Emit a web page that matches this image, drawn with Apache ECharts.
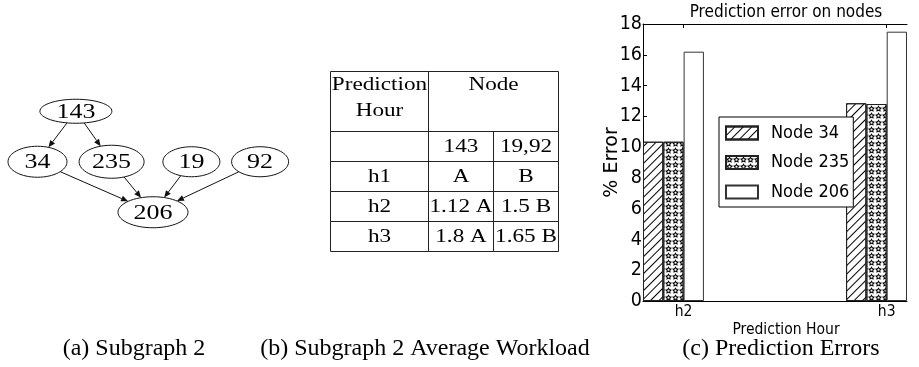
<!DOCTYPE html>
<html>
<head>
<meta charset="utf-8">
<script src="https://cdn.jsdelivr.net/npm/echarts@6/dist/echarts.min.js"></script>
<style>
  html, body { margin: 0; padding: 0; background: #fff; }
  #chart { width: 919px; height: 367px; }
</style>
</head>
<body>
<div id="chart"></div>
<script>
// (a) subgraph 2
var graphNodes = ['143', '34', '235', '19', '92', '206'];
var graphNodeX = [2.53, 1.25, 3.72, 6.38, 8.67, 5.1];
var graphNodeLevel = [0, 1, 1, 1, 1, 2];
var graphEdges = [[0, 1], [0, 2], [1, 5], [2, 5], [3, 5], [4, 5]];

// (b) average workload table
var tableHeader = ['Prediction\nHour', 'Node'];
var tableNodes = ['143', '19,92'];
var tableHours = ['h1', 'h2', 'h3'];
var table143 = ['A', '1.12 A', '1.8 A'];
var table1992 = ['B', '1.5 B', '1.65 B'];

// (c) prediction errors
var hours = ['h2', 'h3'];
var hourIndex = [0, 1];
var node34 = [10.35, 12.85];
var node235 = [10.35, 12.8];
var node206 = [16.2, 17.5];

// styles
var serif = '"Liberation Serif", "Times New Roman", serif';
var sans = '"DejaVu Sans Condensed", "DejaVu Sans", sans-serif';
var nodeW = [72, 59, 65, 57, 57, 70];
var nodeH = [24, 31, 33, 30, 30, 31];
var arrowLen = 7, arrowHalf = 3;

// table cells: [col0, col1, row0, row1, text, valign]
var tableCells = [
  [0, 3, 0, 2, tableHeader[0], 'top'],
  [3, 7, 0, 2, tableHeader[1], 'top'],
  [0, 3, 2, 3, ''],
  [3, 5, 2, 3, tableNodes[0]],
  [5, 7, 2, 3, tableNodes[1]]
];
tableHours.forEach(function (h, i) {
  tableCells.push([0, 3, 3 + i, 4 + i, h]);
  tableCells.push([3, 5, 3 + i, 4 + i, table143[i]]);
  tableCells.push([5, 7, 3 + i, 4 + i, table1992[i]]);
});

// outlined star used as the hatch of Node 235
function starRing(R, r, reverse) {
  var pts = [];
  for (var k = 0; k < 10; k++) {
    var ang = -Math.PI / 2 + k * Math.PI / 5;
    var rad = k % 2 ? r : R;
    pts.push((50 + rad * Math.cos(ang)).toFixed(1) + ' ' + (50 + rad * Math.sin(ang)).toFixed(1));
  }
  if (reverse) pts.reverse();
  return 'M' + pts.join(' L') + ' Z';
}
var starSymbol = 'path://' + starRing(50, 26, false) + ' ' + starRing(24, 9, true);

var hatchDecal = {
  symbol: 'rect', symbolSize: 1, color: '#000',
  dashArrayX: [1, 0], dashArrayY: [1, 5], rotation: -Math.PI / 4
};
var starDecal = {
  symbol: starSymbol, symbolSize: 1, color: '#000',
  dashArrayX: [6.5, 0], dashArrayY: [6.5, 0], rotation: 0
};

function ellipseDist(i, ux, uy) {
  var rx = nodeW[i] / 2, ry = nodeH[i] / 2;
  return 1 / Math.sqrt((ux / rx) * (ux / rx) + (uy / ry) * (uy / ry));
}

function renderEdge(params, api) {
  var e = graphEdges[params.dataIndex];
  var pa = api.coord([graphNodeX[e[0]], graphNodeLevel[e[0]]]);
  var pb = api.coord([graphNodeX[e[1]], graphNodeLevel[e[1]]]);
  var dx = pb[0] - pa[0], dy = pb[1] - pa[1];
  var len = Math.sqrt(dx * dx + dy * dy);
  var ux = dx / len, uy = dy / len;
  var da = ellipseDist(e[0], ux, uy), db = ellipseDist(e[1], ux, uy);
  var sx = pa[0] + ux * da, sy = pa[1] + uy * da;
  var tx = pb[0] - ux * db, ty = pb[1] - uy * db;
  var bx = tx - ux * arrowLen, by = ty - uy * arrowLen;
  return {
    type: 'group',
    children: [
      { type: 'line', shape: { x1: sx, y1: sy, x2: bx, y2: by }, style: { stroke: '#111', lineWidth: 1 } },
      {
        type: 'polygon',
        shape: { points: [[tx, ty], [bx - uy * arrowHalf, by + ux * arrowHalf], [bx + uy * arrowHalf, by - ux * arrowHalf]] },
        style: { fill: '#111' }
      }
    ]
  };
}

function renderNode(params, api) {
  var i = params.dataIndex;
  var p = api.coord([graphNodeX[i], graphNodeLevel[i]]);
  return {
    type: 'group',
    children: [
      { type: 'ellipse', shape: { cx: p[0], cy: p[1], rx: nodeW[i] / 2, ry: nodeH[i] / 2 }, style: { fill: '#fff', stroke: '#111', lineWidth: 1 } },
      {
        type: 'text', x: p[0], y: p[1] + 1, scaleX: 1.3,
        style: { text: graphNodes[i], font: '20px ' + serif, fill: '#000', align: 'center', verticalAlign: 'middle' }
      }
    ]
  };
}

function renderCell(params, api) {
  var c = tableCells[params.dataIndex];
  var p0 = api.coord([c[0], c[2]]);
  var p1 = api.coord([c[1], c[3]]);
  var x = Math.round(p0[0]) + 0.5, y = Math.round(p0[1]) + 0.5;
  var w = Math.round(p1[0]) - Math.round(p0[0]);
  var h = Math.round(p1[1]) - Math.round(p0[1]);
  var children = [{ type: 'rect', shape: { x: x, y: y, width: w, height: h }, style: { fill: 'none', stroke: '#222', lineWidth: 1 } }];
  if (c[4]) {
    var top = c[5] === 'top';
    children.push({
      type: 'text', x: x + w / 2, y: top ? y + 1 : y + h / 2 + 1, scaleX: 1.22,
      style: { text: c[4], font: '19px ' + serif, fill: '#000', align: 'center', verticalAlign: top ? 'top' : 'middle', lineHeight: 26 }
    });
  }
  return { type: 'group', children: children };
}

function barData(values) {
  return hourIndex.map(function (h, i) { return [h + 0.15, values[i]]; });
}
var hourTicks = hourIndex.map(function (h) { return h + 0.2; });

var chart = echarts.init(document.getElementById('chart'));
chart.setOption({
  animation: false,
  textStyle: { fontFamily: sans, color: '#000' },
  grid: [
    { left: 643, top: 24, width: 264, height: 277, outerBoundsMode: 'none' },
    { left: 0, top: 86, width: 300, height: 151.5, outerBoundsMode: 'none' },
    { left: 330, top: 71, width: 228, height: 180, outerBoundsMode: 'none' }
  ],
  xAxis: [
    {
      type: 'value', gridIndex: 0, min: 0, max: 1.3, position: 'bottom',
      axisLine: { show: true, onZero: false, lineStyle: { color: '#000', width: 1 } },
      axisTick: { show: true, inside: true, length: 4, customValues: hourTicks, lineStyle: { color: '#000' } },
      axisLabel: {
        customValues: hourTicks, margin: 3, fontSize: 15.5, color: '#000',
        formatter: function (v) { return hours[Math.round(v - 0.2)]; }
      },
      splitLine: { show: false },
      name: 'Prediction Hour', nameLocation: 'middle', nameGap: 21, nameMoveOverlap: false,
      nameTextStyle: { fontSize: 15.5, color: '#000', padding: [0, 0, 0, 22] }
    },
    {
      type: 'value', gridIndex: 0, min: 0, max: 1.3, position: 'top',
      axisLine: { show: true, onZero: false, lineStyle: { color: '#000', width: 1 } },
      axisTick: { show: true, inside: true, length: 4, customValues: hourTicks, lineStyle: { color: '#000' } },
      axisLabel: { show: false },
      splitLine: { show: false }
    },
    { type: 'value', gridIndex: 1, min: 0, max: 10, show: false },
    { type: 'value', gridIndex: 2, min: 0, max: 7, show: false }
  ],
  yAxis: [
    {
      type: 'value', gridIndex: 0, min: 0, max: 18, interval: 2,
      axisLine: { show: true, lineStyle: { color: '#000', width: 1 } },
      axisTick: { show: true, inside: true, length: 4, lineStyle: { color: '#000' } },
      axisLabel: { margin: 1, fontSize: 19.5, color: '#000' },
      splitLine: { show: false },
      name: '% Error', nameLocation: 'middle', nameGap: 21, nameRotate: 90, nameMoveOverlap: false,
      nameTextStyle: { fontSize: 19, color: '#000', fontFamily: '"DejaVu Sans", sans-serif' }
    },
    { type: 'value', gridIndex: 1, min: -0.5, max: 2.5, inverse: true, show: false },
    { type: 'value', gridIndex: 2, min: 0, max: 6, inverse: true, show: false }
  ],
  legend: {
    orient: 'vertical', left: 719, top: 117,
    data: ['Node 34', 'Node 235', 'Node 206'],
    icon: 'rect', itemWidth: 32, itemHeight: 13, itemGap: 11.5,
    padding: [7, 4, 6, 6],
    borderColor: '#000', borderWidth: 1, backgroundColor: '#fff',
    selectedMode: false,
    textStyle: { fontSize: 18, color: '#000', padding: [0, 0, 0, 8] }
  },
  graphic: [
    { type: 'text', x: 786, y: 13, style: { text: 'Prediction error on nodes', font: '17px ' + sans, fill: '#000', align: 'center', verticalAlign: 'middle' } },
    { type: 'text', x: 134, y: 349, style: { text: '(a) Subgraph 2', font: '24px ' + serif, fill: '#000', align: 'center', verticalAlign: 'middle' } },
    { type: 'text', x: 425, y: 349, style: { text: '(b) Subgraph 2 Average Workload', font: '24px ' + serif, fill: '#000', align: 'center', verticalAlign: 'middle' } },
    { type: 'text', x: 781, y: 349, style: { text: '(c) Prediction Errors', font: '24px ' + serif, fill: '#000', align: 'center', verticalAlign: 'middle' } }
  ],
  series: [
    {
      type: 'bar', name: 'Node 34', xAxisIndex: 0, yAxisIndex: 0,
      data: barData(node34), barWidth: 20.3, barGap: '0%',
      itemStyle: { color: '#fff', borderColor: '#222', borderWidth: 1, decal: hatchDecal },
      emphasis: { disabled: true }
    },
    {
      type: 'bar', name: 'Node 235', xAxisIndex: 0, yAxisIndex: 0,
      data: barData(node235), barWidth: 20.3, barGap: '0%',
      itemStyle: { color: '#fff', borderColor: '#222', borderWidth: 1, decal: starDecal },
      emphasis: { disabled: true }
    },
    {
      type: 'bar', name: 'Node 206', xAxisIndex: 0, yAxisIndex: 0,
      data: barData(node206), barWidth: 20.3, barGap: '0%',
      itemStyle: { color: '#fff', borderColor: '#333', borderWidth: 1 },
      emphasis: { disabled: true }
    },
    {
      type: 'custom', xAxisIndex: 2, yAxisIndex: 1, renderItem: renderEdge, silent: true,
      data: graphEdges.map(function (e) { return [graphNodeX[e[0]], graphNodeLevel[e[0]]]; })
    },
    {
      type: 'custom', xAxisIndex: 2, yAxisIndex: 1, renderItem: renderNode, silent: true,
      data: graphNodes.map(function (n, i) { return [graphNodeX[i], graphNodeLevel[i]]; })
    },
    {
      type: 'custom', xAxisIndex: 3, yAxisIndex: 2, renderItem: renderCell, silent: true,
      data: tableCells.map(function (c) { return [c[0], c[2]]; })
    }
  ]
});
</script>
</body>
</html>
